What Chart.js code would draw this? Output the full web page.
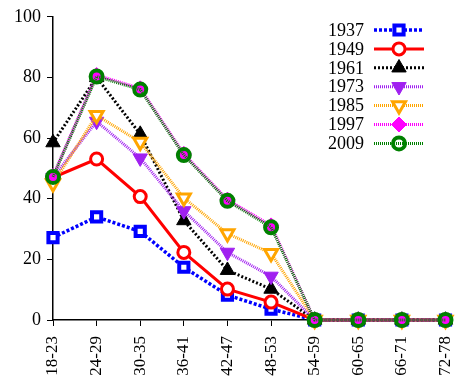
<!DOCTYPE html>
<html>
<head>
<meta charset="utf-8">
<script src="https://cdn.jsdelivr.net/npm/chart.js@4/dist/chart.umd.min.js"></script>
<style>
  html, body { margin: 0; padding: 0; background: #fff; }
  #wrap { width: 456px; height: 386px; }
</style>
</head>
<body>
<div id="wrap"><canvas id="chart" width="456" height="386"></canvas></div>
<script>
const categories = ["18-23", "24-29", "30-35", "36-41", "42-47", "48-53", "54-59", "60-65", "66-71", "72-78"];
const yTicks = [0, 20, 40, 60, 80, 100];

const v1937 = [27.2, 34.0, 29.2, 17.4, 8.2, 3.6, 0, 0, 0, 0];
const v1949 = [47.0, 53.1, 40.7, 22.3, 10.2, 5.9, 0, 0, 0, 0];
const v1961 = [58.5, 80.0, 61.3, 32.8, 16.4, 10.2, 0, 0, 0, 0];
const v1973 = [47.0, 65.5, 53.4, 36.0, 22.3, 14.4, 0, 0, 0, 0];
const v1985 = [45.0, 67.5, 58.7, 40.3, 28.5, 22.0, 0, 0, 0, 0];
const v1997 = [47.5, 80.8, 76.4, 54.8, 39.7, 31.2, 0, 0, 0, 0];
const v2009 = [47.2, 80.3, 76.0, 54.4, 39.3, 30.6, 0, 0, 0, 0];

const serif = '"Liberation Serif", "Times New Roman", serif';

// line + marker style for each year
function series(label, data, color, opts) {
    return Object.assign({
        label: label,
        data: data,
        borderColor: color,
        borderWidth: 3,
        borderDash: [1, 1],
        pointStyle: "circle",
        pointRadius: 6,
        pointBorderWidth: 3,
        pointBorderColor: color,
        pointBackgroundColor: color,
        pointRotation: 0,
        tension: 0,
        fill: false,
        clip: false,
    }, opts);
}

const datasets = [
    series("1937", v1937, "#0000ff", { borderWidth: 3.5, borderDash: [3, 2], pointStyle: "rect", pointRadius: 6.5, pointBorderWidth: 4, pointBackgroundColor: "#ffffff" }),
    series("1949", v1949, "#ff0000", { borderDash: [], pointBackgroundColor: "#ffffff" }),
    series("1961", v1961, "#000000", { borderDash: [2, 2], pointStyle: "triangle", pointRadius: 8.3, pointBorderWidth: 1 }),
    series("1973", v1973, "#a020f0", { pointStyle: "triangle", pointRotation: 180, pointRadius: 8.3, pointBorderWidth: 1 }),
    series("1985", v1985, "#ffa500", { pointStyle: "triangle", pointRotation: 180, pointRadius: 7.5, pointBackgroundColor: "#ffffff" }),
    series("1997", v1997, "#ff00ff", { pointStyle: "rectRot", pointRadius: 7.5, pointBorderWidth: 1 }),
    series("2009", v2009, "#008000", { pointRadius: 6, pointBorderWidth: 4, pointBackgroundColor: "rgba(0,0,0,0)" }),
];
// later years drawn on top
datasets.forEach((ds, i) => { ds.order = datasets.length - i; });

// legend on the right: label, then line sample with marker
const sideLegend = {
    id: "sideLegend",
    afterDraw(chart) {
        const ctx = chart.ctx;
        chart.data.datasets.forEach((ds, i) => {
            const y = 30 + i * 18.9;
            ctx.save();
            ctx.font = "18px " + serif;
            ctx.fillStyle = "#000";
            ctx.textAlign = "right";
            ctx.textBaseline = "middle";
            ctx.fillText(ds.label, 364, y + 1);

            ctx.strokeStyle = ds.borderColor;
            ctx.lineWidth = ds.borderWidth;
            ctx.setLineDash(ds.borderDash);
            ctx.beginPath();
            ctx.moveTo(374, y);
            ctx.lineTo(424, y);
            ctx.stroke();

            ctx.setLineDash([]);
            ctx.fillStyle = ds.pointBackgroundColor;
            ctx.strokeStyle = ds.pointBorderColor;
            ctx.lineWidth = ds.pointBorderWidth;
            Chart.helpers.drawPoint(ctx, {
                pointStyle: ds.pointStyle,
                rotation: ds.pointRotation,
                radius: ds.pointRadius,
                borderWidth: ds.pointBorderWidth,
            }, 399, y);
            ctx.restore();
        });
    }
};

new Chart(document.getElementById("chart").getContext("2d"), {
    type: "line",
    data: { labels: categories, datasets: datasets },
    plugins: [sideLegend],
    options: {
        responsive: false,
        animation: false,
        layout: { padding: { top: 15, right: 6, bottom: 0, left: 0 } },
        plugins: {
            legend: { display: false },
            tooltip: { enabled: false },
        },
        scales: {
            x: {
                offset: false,
                afterFit: (s) => { s.height = 66; s.paddingRight = 0; s.paddingLeft = 0; },
                grid: { drawOnChartArea: false, drawTicks: true, tickLength: 6, color: "#000" },
                border: { color: "#000", width: 1.5 },
                ticks: {
                    autoSkip: false,
                    minRotation: 90,
                    maxRotation: 90,
                    padding: 10,
                    color: "#000",
                    font: { family: serif, size: 17 },
                },
            },
            y: {
                min: 0,
                max: 100,
                afterFit: (s) => { s.width = 53; },
                afterBuildTicks: (s) => { s.ticks = yTicks.map(v => ({ value: v })); },
                grid: { drawOnChartArea: false, drawTicks: true, tickLength: 6, color: "#000" },
                border: { color: "#000", width: 1.5 },
                ticks: {
                    padding: 6,
                    color: "#000",
                    font: { family: serif, size: 18 },
                },
            },
        },
    },
});
</script>
</body>
</html>
